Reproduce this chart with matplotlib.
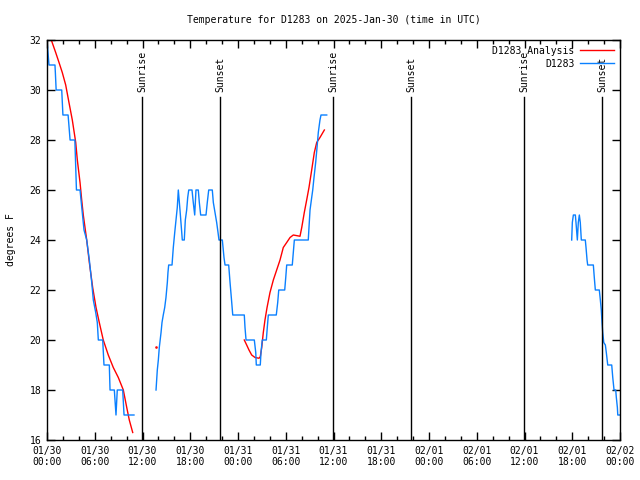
import matplotlib
matplotlib.use("Agg")
import matplotlib.pyplot as plt
import numpy as np

plt.rcParams['font.family'] = ['DejaVu Sans Mono']
plt.rcParams['font.size'] = 7

# hours since 2025-01-30 00:00 UTC
obs_t1 = [0.0, 0.25, 1.0, 1.05, 1.15, 1.85, 2.0, 2.65, 2.9, 3.5, 3.7, 4.15, 4.65,
          4.99, 5.32, 5.62, 5.82, 6.12, 6.32, 6.45, 7.0, 7.16, 7.83, 7.92, 8.46,
          8.67, 8.83, 9.51, 9.68, 10.93]
obs_v1 = [32, 31, 31, 30.7, 30, 30, 29, 29, 28, 28, 26, 26, 24.4,
          24, 23.2, 22.3, 21.6, 21.1, 20.7, 20, 20, 19, 19, 18, 18,
          17, 18, 18, 17, 17]

obs_t2 = [13.70, 13.86, 13.99, 14.11, 14.33, 14.45, 14.61, 14.79, 14.95, 15.12,
          15.20, 15.29, 15.71, 15.87, 16.05, 16.21, 16.37, 16.50, 16.71, 16.93,
          17.00, 17.25, 17.38, 17.55, 17.68, 17.81, 18.22, 18.38, 18.56, 18.72,
          19.01, 19.14, 19.31, 19.98, 20.14, 20.32, 20.77, 20.90, 21.11, 21.32,
          21.49, 21.61, 22.03, 22.24, 22.37, 22.83, 23.00, 23.16, 23.34, 24.79,
          24.88, 25.01, 26.05, 26.23, 26.30, 26.80, 26.89, 27.05, 27.56, 27.68,
          27.81, 28.81, 28.99, 29.12, 29.87, 30.00, 30.12, 30.82, 30.95, 31.08,
          32.83, 32.92, 33.05, 33.26, 33.39, 33.55, 33.76, 33.93, 34.09, 34.30,
          34.43, 35.15]
obs_v2 = [18, 18.8, 19.2, 19.7, 20.3, 20.7, 21, 21.3, 21.7, 22.3,
          22.7, 23, 23, 23.7, 24.3, 24.8, 25.3, 26, 25.2, 24.3,
          24, 24, 24.8, 25.2, 25.7, 26, 26, 25.5, 25, 26,
          26, 25.5, 25, 25, 25.5, 26, 26, 25.5, 25.1, 24.7,
          24.3, 24, 24, 23.3, 23, 23, 22.3, 21.7, 21, 21,
          20.5, 20, 20, 19.5, 19, 19, 19.5, 20, 20, 20.5,
          21, 21, 21.5, 22, 22, 22.5, 23, 23, 23.5, 24,
          24, 24.5, 25.2, 25.7, 26, 26.5, 27.1, 27.7, 28.3, 28.8,
          29, 29]

obs_t3 = [65.93, 66.01, 66.14, 66.39, 66.47, 66.64, 66.76, 66.89, 67.01, 67.14,
          67.64, 67.73, 67.86, 67.94, 68.65, 68.77, 68.90, 69.40, 69.53, 69.65,
          69.74, 69.83, 69.96, 70.16, 70.28, 70.46, 70.96, 71.09, 71.25, 71.46,
          71.54, 71.67, 71.72, 72.0]
obs_v3 = [24, 24.7, 25, 25, 24.7, 24, 24.7, 25, 24.7, 24,
          24, 23.7, 23.2, 23, 23, 22.5, 22, 22, 21.6, 21.2,
          20.7, 20.3, 19.9, 19.8, 19.5, 19, 19, 18.5, 18, 18,
          17.7, 17.3, 17, 17]

ana_t1 = [0.54, 1.09, 1.51, 1.92, 2.35, 2.76, 3.18, 3.61, 3.81, 4.15, 4.36, 4.56,
          4.99, 5.32, 5.74, 6.16, 6.57, 7.07, 7.70, 8.33, 8.96, 9.59, 10.02,
          10.34, 10.77]
ana_v1 = [32, 31.5, 31.1, 30.7, 30.2, 29.5, 28.8, 27.9, 27.2, 26.3, 25.6, 25,
          24, 23.1, 22.1, 21.3, 20.7, 20, 19.4, 18.9, 18.5, 18.0, 17.3,
          16.8, 16.3]

ana_t2 = [13.73]
ana_v2 = [19.7]

ana_t3 = [24.79, 25.09, 25.38, 25.72, 26.14, 26.64, 26.80, 26.98, 27.18, 27.39,
          27.65, 28.02, 28.44, 28.86, 29.28, 29.69, 30.12, 30.54, 30.95, 31.79,
          32.01, 32.33, 32.63, 32.92, 33.26, 33.59, 33.89, 34.30, 34.85]
ana_v3 = [20, 19.8, 19.6, 19.4, 19.3, 19.27, 19.33, 19.7, 20.3, 20.8,
          21.3, 21.9, 22.4, 22.8, 23.2, 23.7, 23.9, 24.1, 24.2, 24.15,
          24.5, 25.1, 25.6, 26.1, 26.8, 27.5, 27.9, 28.1, 28.4]

sun_times = [11.94, 21.73, 35.94, 45.73, 59.94, 69.73]
sun_names = ["Sunrise", "Sunset", "Sunrise", "Sunset", "Sunrise", "Sunset"]

xtick_labels = ["01/30\n00:00", "01/30\n06:00", "01/30\n12:00", "01/30\n18:00",
                "01/31\n00:00", "01/31\n06:00", "01/31\n12:00", "01/31\n18:00",
                "02/01\n00:00", "02/01\n06:00", "02/01\n12:00", "02/01\n18:00",
                "02/02\n00:00"]

red = '#ff0000'
blue = '#0a80ff'

fig = plt.figure(figsize=(6.4, 4.8), dpi=100)
ax = fig.add_axes([47/640, 40/480, 573/640, 400/480])

ax.plot(ana_t1, ana_v1, color=red, lw=1.0, label='D1283 Analysis')
ax.plot(ana_t2, ana_v2, color=red, marker='s', ms=0.8, lw=0)
ax.plot(ana_t3, ana_v3, color=red, lw=1.0)

ax.plot(obs_t1, obs_v1, color=blue, lw=1.0, label='D1283')
ax.plot(obs_t2, obs_v2, color=blue, lw=1.0)
ax.plot(obs_t3, obs_v3, color=blue, lw=1.0)

line_top = 29.72
for t, name in zip(sun_times, sun_names):
    ax.plot([t, t], [16, line_top], color='black', lw=1.0)
    ax.text(t, line_top + 0.2, name, rotation=90, ha='center', va='bottom', fontsize=7)

ax.set_xlim(0, 72)
ax.set_ylim(16, 32)
ax.set_xticks(np.arange(0, 73, 6))
ax.set_xticklabels(xtick_labels)
ax.set_xticks(np.arange(0, 73, 2), minor=True)
ax.set_yticks(np.arange(16, 33, 2))
ax.tick_params(which='both', direction='in', top=True, right=True, width=1, labelsize=7)
ax.tick_params(which='major', length=6, pad=4)
ax.tick_params(which='minor', length=3)
for s in ax.spines.values():
    s.set_linewidth(1.0)

ax.set_ylabel('degrees F', fontsize=7, labelpad=10)
ax.set_title('Temperature for D1283 on 2025-Jan-30 (time in UTC)', fontsize=7, pad=12)

ax.legend(loc='upper right', frameon=False, markerfirst=False, fontsize=7,
          handlelength=3.5, handletextpad=0.6, borderaxespad=0.2, labelspacing=0.3)

fig.savefig('out.png', dpi=100)
